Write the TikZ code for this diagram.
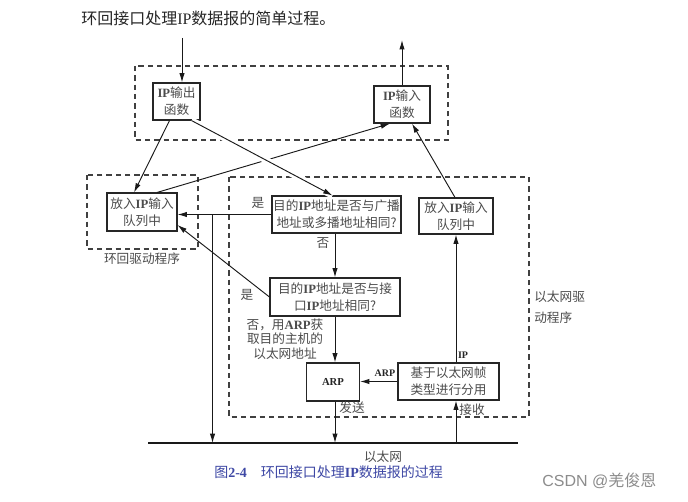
\documentclass[tikz,border=0pt]{standalone}
\usepackage{fontspec}
\setmainfont{Noto Sans CJK SC}
\newfontfamily\latf{Liberation Serif}
\newfontfamily\wmf{Liberation Sans}
\usetikzlibrary{arrows.meta,calc}
\newcommand{\bIP}{{\latf\bfseries IP}}
\begin{document}
\begin{tikzpicture}[x=0.75pt,y=-0.75pt,
  box/.style={draw=black!85, line width=0.8pt, inner sep=0pt, align=center, text=black!70, font=\fontsize{9.5}{13}\selectfont},
  arr/.style={-{Latex[length=7pt,width=4pt]}, line width=0.7pt, draw=black!90},
  dbox/.style={draw=black!75, dash pattern=on 4pt off 3pt, line width=0.8pt},
  lbl/.style={text=black!70, inner sep=0pt, align=center, font=\fontsize{9.5}{11}\selectfont},
  slbl/.style={text=black!85, inner sep=0pt, font=\fontsize{7.5}{9}\selectfont\latf\bfseries}]
\useasboundingbox[fill=white] (0,0) rectangle (688,502);

% title
\node[anchor=west, inner sep=0pt, text=black!85, font=\fontsize{12}{14}\selectfont] (title) at (81,18) {环回接口处理{\latf IP}数据报的简单过程。};

% dashed groups
\draw[dbox] (135,66) rectangle (448,140);
\draw[dbox] (87,175) rectangle (198,249);
\draw[dbox] (229,177) rectangle (529,417);

% boxes
\node[box, minimum width=35.25pt, minimum height=27.75pt] (outfn) at (176.5,101.5) {\bIP 输出\\函数};
\node[box, minimum width=42pt, minimum height=27.75pt] (infn) at (402,104.5) {\bIP 输入\\函数};
\node[box, minimum width=52.5pt, minimum height=28.5pt] (lq) at (142,212) {放入\bIP 输入\\队列中};
\node[box, minimum width=96.75pt, minimum height=27.75pt] (d1) at (336.5,214.5) {目的\bIP 地址是否与广播\\地址或多播地址相同?};
\node[box, minimum width=55.5pt, minimum height=27pt] (rq) at (456,216) {放入\bIP 输入\\队列中};
\node[box, minimum width=97.5pt, minimum height=28.5pt] (d2) at (335,297) {目的\bIP 地址是否与接\\口\bIP 地址相同?};
\node[box, minimum width=39.75pt, minimum height=28.5pt, font=\fontsize{8}{10}\selectfont\latf\bfseries, text=black!85] (arp) at (333,382) {ARP};
\node[box, minimum width=75.75pt, minimum height=27.75pt] (demux) at (448.5,381.5) {基于以太网帧\\类型进行分用};

% ethernet
\coordinate (ethL) at (148,443);
\coordinate (ethR) at (518,443);
\draw[line width=1.8pt, black!90] (ethL) -- (ethR);

% external arrows
\coordinate (topin) at (182,38);
\coordinate (topout) at (402,40);
\draw[arr] (topin) -- (topin |- outfn.north);
\draw[arr] (infn.north) -- (topout);

% connectors
\draw[arr] ($(outfn.south)+(-7,0)$) -- ($(lq.north)+(-8,0)$);
\draw[arr] ($(lq.north)+(15,0)$) -- ($(infn.south)+(-12,0)$);
\draw[arr, preaction={draw=white, line width=5pt, -}] ($(outfn.south)+(15,0)$) -- ($(d1.north)+(-4,0)$);
\draw[arr] ($(rq.north)+(-1,0)$) -- ($(infn.south)+(10,0)$);

\draw[arr] (d1.west) -- (d1.west -| lq.east);
\coordinate (br) at ($(d1.west -| lq.east)+(35,0)$);
\draw[arr] (br) -- (br |- ethL);
\draw[arr] (d2.west) -- ($(lq.east)+(0,13)$);

\draw[arr] (d1.south -| d2.north) -- (d2.north);
\draw[arr] (d2.south) -- (d2.south |- arp.north);
\draw[arr] (demux.west) -- (demux.west -| arp.east);
\draw[arr] (rq.south |- demux.north) -- (rq.south);
\draw[arr] (arp.south -| d2.south) -- (d2.south |- ethL);
\draw[arr] (rq.south |- ethL) -- (rq.south |- demux.south);

% labels
\node[lbl] (yes1) at (258,203) {是};
\node[lbl] (no1) at (323,243) {否};
\node[lbl] (yes2) at (247,295) {是};
\node[lbl, font=\fontsize{9.5}{11}\selectfont] (no2) at (285,339) {否，用{\latf\bfseries ARP}获\\取目的主机的\\以太网地址};
\node[slbl] (arpl) at (385,373) {ARP};
\node[slbl] (ipl) at (463,355) {IP};
\node[lbl] (send) at (352,408) {发送};
\node[lbl] (recv) at (472,410) {接收};
\node[lbl] (ethl) at (383,457) {以太网};
\node[lbl] (lbdrv) at (142,259) {环回驱动程序};
\node[lbl, anchor=west, align=left, font=\fontsize{9.5}{15.5}\selectfont] (ethdrv) at (534,307) {以太网驱\\动程序};

% caption
\definecolor{capblue}{RGB}{62,72,165}
\node[anchor=west, inner sep=0pt, text=capblue, font=\fontsize{10.5}{12}\selectfont] (cap) at (214,472) {图{\latf\bfseries 2-4}\hspace{1em}环回接口处理{\latf\bfseries IP}数据报的过程};

% watermark
\node[anchor=west, inner sep=0pt, text=black!45, font=\fontsize{12}{14}\selectfont] (wm) at (542,481) {{\wmf CSDN @}羌俊恩};
\end{tikzpicture}
\end{document}
